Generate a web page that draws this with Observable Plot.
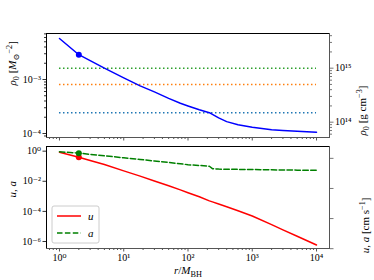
<!DOCTYPE html>
<html><head><meta charset="utf-8">
<script src="https://cdn.jsdelivr.net/npm/d3@7"></script>
<script src="https://cdn.jsdelivr.net/npm/@observablehq/plot@0.6"></script>
<style>
body{margin:0;background:#fff;}
#wrap{position:relative;width:374px;height:280px;font-family:"Liberation Serif","DejaVu Serif",serif;}
#wrap svg{position:absolute;left:0;}
</style></head><body><div id="wrap"></div>
<script>
// radius r / M_BH
const r   = [1, 2, 3, 5, 10, 18, 30, 50, 76, 100, 150, 215, 240, 300, 400, 600, 1000, 2000, 3000, 5000, 10000];
// rest-mass density rho0 [M_sun^-2]
const rho = [5.75e-3, 2.88e-3, 2.24e-3, 1.62e-3, 1.07e-3, 7.64e-4, 5.89e-4, 4.47e-4, 3.63e-4, 3.24e-4, 2.75e-4, 2.43e-4, 2.26e-4, 1.95e-4, 1.66e-4, 1.45e-4, 1.30e-4, 1.17e-4, 1.14e-4, 1.10e-4, 1.06e-4];
// velocity u and sound speed a (units of c)
const u   = [0.851, 0.398, 0.240, 0.129, 0.049, 0.0219, 0.0105, 5.0e-3, 2.69e-3, 1.74e-3, 9.3e-4, 5.0e-4, 4.3e-4, 3.1e-4, 2.04e-4, 1.10e-4, 4.9e-5, 1.32e-5, 5.9e-6, 2.24e-6, 5.9e-7];
const a   = [0.912, 0.741, 0.617, 0.490, 0.363, 0.282, 0.224, 0.178, 0.145, 0.126, 0.112, 0.100, 0.069, 0.0646, 0.0631, 0.0617, 0.0603, 0.0575, 0.0562, 0.0550, 0.0537];
// marked point (sonic point)
const markR = [2];
const markRho = [2.88e-3];
const markU = [0.398];
const markA = [0.741];
// reference densities [g cm^-3]
const refDens = [1.5e14, 5e14, 1e15];
const refColors = ["#1f77b4", "#ff7f0e", "#2ca02c"];
// unit conversions
const rhoToCgs = 6.17e17;
const cLight = 2.998e10;
// tick values
const xMajor = [1, 10, 100, 1000, 10000];
const rhoMajor = [1e-4, 1e-3];
const rhoCgsMajor = [1e14, 1e15];
const uMajor = [1e-6, 1e-4, 1e-2, 1];
const uCgsMajor = [1e4, 1e6, 1e8, 1e10];

const xDomain = [10 ** -0.202, 10 ** 4.202];
const yTopDomain = [10 ** -4.074, 10 ** -2.148];
const yBotDomain = [10 ** -6.465, 10 ** 0.31];

const rows = r.map((rv, i) => ({r: rv, rho: rho[i], u: u[i], a: a[i]}));
const sup = s => s.replace(/[-0-9]/g, ch => "⁻⁰¹²³⁴⁵⁶⁷⁸⁹"["-0123456789".indexOf(ch)]);
const fmtPow = v => "10" + sup(String(Math.round(Math.log10(v))));
const minors = ([lo, hi]) => {
  const out = [];
  for (let e = Math.floor(Math.log10(lo)) - 1; e <= Math.ceil(Math.log10(hi)); e++)
    for (let m = 2; m <= 9; m++) { const v = m * 10 ** e; if (v >= lo && v <= hi) out.push(v); }
  return out;
};
const FONT = '"Liberation Serif","DejaVu Serif",serif';
const wrap = document.getElementById("wrap");

function rich(svg, plain, parts) {
  d3.select(svg).selectAll("text").filter(function () { return this.textContent === plain; }).each(function () {
    const t = d3.select(this);
    t.text(null);
    let shift = 0;
    for (const [s, k] of parts) {
      const ts = t.append("tspan").text(s);
      const target = k === "sub" ? 3 : k === "sup" ? -4.5 : 0;
      if (target !== shift) ts.attr("dy", target - shift);
      shift = target;
      if (k === "sub" || k === "sup") ts.attr("font-size", "75%");
      if (k === "i") ts.attr("font-style", "italic");
    }
  });
}

const rhoCgsDomain = yTopDomain.map(v => v * rhoToCgs);

const topPlot = Plot.plot({
  width: 374, height: 140,
  marginTop: 33, marginBottom: 3, marginLeft: 46, marginRight: 45,
  style: {fontFamily: FONT, fontSize: "10px", background: "transparent", overflow: "visible"},
  x: {type: "log", domain: xDomain, label: null},
  y: {type: "log", domain: yTopDomain, label: null},
  marks: [
    Plot.frame({stroke: "#555"}),
    Plot.ruleY([yTopDomain[1]], {stroke: "#000"}),
    Plot.ruleX([xDomain[0]], {stroke: "#000"}),
    ...refDens.map((d, i) => Plot.ruleY([d / rhoToCgs], {x1: r[0], x2: r[r.length - 1], stroke: refColors[i], strokeWidth: 1.5, strokeDasharray: "1.5,2.5"})),
    Plot.line(rows, {x: "r", y: "rho", stroke: "#0000ff", strokeWidth: 1.5}),
    Plot.dot(markR.map((v, i) => ({r: v, y: markRho[i]})), {x: "r", y: "y", r: 3, fill: "#0000ff"}),
    Plot.axisY({ticks: rhoMajor, tickSize: 3.5, tickPadding: 2, tickFormat: fmtPow, label: null, stroke: "#333"}),
    Plot.axisY({ticks: minors(yTopDomain), tickSize: 2, tickFormat: () => "", label: null, stroke: "#333"}),
    Plot.axisY({anchor: "right", ticks: rhoCgsMajor.map(v => v / rhoToCgs), tickSize: 3.5, tickPadding: 2, tickFormat: d => fmtPow(d * rhoToCgs), label: null, stroke: "#777"}),
    Plot.axisY({anchor: "right", ticks: minors(rhoCgsDomain).map(v => v / rhoToCgs), tickSize: 2, tickFormat: () => "", label: null, stroke: "#777"}),
    Plot.axisX({ticks: xMajor, tickSize: 3.5, tickFormat: () => "", label: null, stroke: "#555"}),
    Plot.axisX({ticks: minors(xDomain), tickSize: 2, tickFormat: () => "", label: null, stroke: "#555"}),
    Plot.text(["ρ0 [M⊙-2]"], {frameAnchor: "left", dx: -34, rotate: -90, fontSize: 11}),
    Plot.text(["ρ0 [g cm-3]"], {frameAnchor: "right", dx: 33, rotate: -90, fontSize: 11})
  ]
});
topPlot.style.top = "0px";
wrap.appendChild(topPlot);
rich(topPlot, "ρ0 [M⊙-2]", [["ρ", "i"], ["0", "sub"], [" [", ""], ["M", "i"], ["⊙", "sub"], ["−2", "sup"], ["]", ""]]);
rich(topPlot, "ρ0 [g cm-3]", [["ρ", "i"], ["0", "sub"], [" [g cm", ""], ["−3", "sup"], ["]", ""]]);

const uCgsDomain = yBotDomain.map(v => v * cLight);

const botPlot = Plot.plot({
  width: 374, height: 140,
  marginTop: 6, marginBottom: 32, marginLeft: 46, marginRight: 45,
  style: {fontFamily: FONT, fontSize: "10px", background: "transparent", overflow: "visible"},
  x: {type: "log", domain: xDomain, label: null},
  y: {type: "log", domain: yBotDomain, label: null},
  marks: [
    Plot.frame({stroke: "#555"}),
    Plot.ruleY([yBotDomain[1]], {stroke: "#000"}),
    Plot.ruleX([xDomain[0]], {stroke: "#000"}),
    Plot.line(rows, {x: "r", y: "u", stroke: "#ff0000", strokeWidth: 1.5}),
    Plot.line(rows, {x: "r", y: "a", stroke: "#008000", strokeWidth: 1.5, strokeDasharray: "5.5,2.4"}),
    Plot.dot(markR.map((v, i) => ({r: v, y: markU[i]})), {x: "r", y: "y", r: 3, fill: "#ff0000"}),
    Plot.dot(markR.map((v, i) => ({r: v, y: markA[i]})), {x: "r", y: "y", r: 3, fill: "#008000"}),
    Plot.axisY({ticks: uMajor, tickSize: 3.5, tickPadding: 2, tickFormat: fmtPow, label: null, stroke: "#333"}),
    Plot.axisY({anchor: "right", ticks: uCgsMajor.map(v => v / cLight), tickSize: 3.5, tickPadding: 2, tickFormat: d => fmtPow(d * cLight), label: null, stroke: "#777"}),
    Plot.axisX({ticks: xMajor, tickSize: 3.5, tickPadding: 1.5, tickFormat: fmtPow, label: null, stroke: "#555"}),
    Plot.axisX({ticks: minors(xDomain), tickSize: 2, tickFormat: () => "", label: null, stroke: "#555"}),
    Plot.text(["u, a"], {frameAnchor: "left", dx: -34, rotate: -90, fontSize: 11}),
    Plot.text(["u, a [cm s-1]"], {frameAnchor: "right", dx: 36, rotate: -90, fontSize: 11}),
    Plot.text(["r/MBH"], {frameAnchor: "bottom", dy: 25.5, fontSize: 11})
  ]
});
botPlot.style.top = "140px";
wrap.appendChild(botPlot);
rich(botPlot, "u, a", [["u", "i"], [", ", ""], ["a", "i"]]);
rich(botPlot, "u, a [cm s-1]", [["u", "i"], [", ", ""], ["a", "i"], [" [cm s", ""], ["−1", "sup"], ["]", ""]]);
rich(botPlot, "r/MBH", [["r", "i"], ["/", ""], ["M", "i"], ["BH", "sub"]]);

// legend
const leg = d3.create("svg").attr("width", 374).attr("height", 280).style("top", "0px").style("pointer-events", "none")
  .style("font-family", FONT);
const g = leg.append("g").attr("transform", "translate(52,206)");
g.append("rect").attr("width", 47).attr("height", 37).attr("rx", 2).attr("fill", "#fff").attr("fill-opacity", 0.85).attr("stroke", "#ccc");
const legItems = [{label: "u", color: "#ff0000", dash: null}, {label: "a", color: "#008000", dash: "5.5,2.4"}];
legItems.forEach((it, i) => {
  const y = 10 + i * 17;
  g.append("line").attr("x1", 5).attr("x2", 29).attr("y1", y).attr("y2", y).attr("stroke", it.color).attr("stroke-width", 1.5).attr("stroke-dasharray", it.dash);
  g.append("text").attr("x", 36).attr("y", y).attr("dy", "0.32em").attr("font-size", 11).attr("font-style", "italic").text(it.label);
});
wrap.appendChild(leg.node());
</script></body></html>
